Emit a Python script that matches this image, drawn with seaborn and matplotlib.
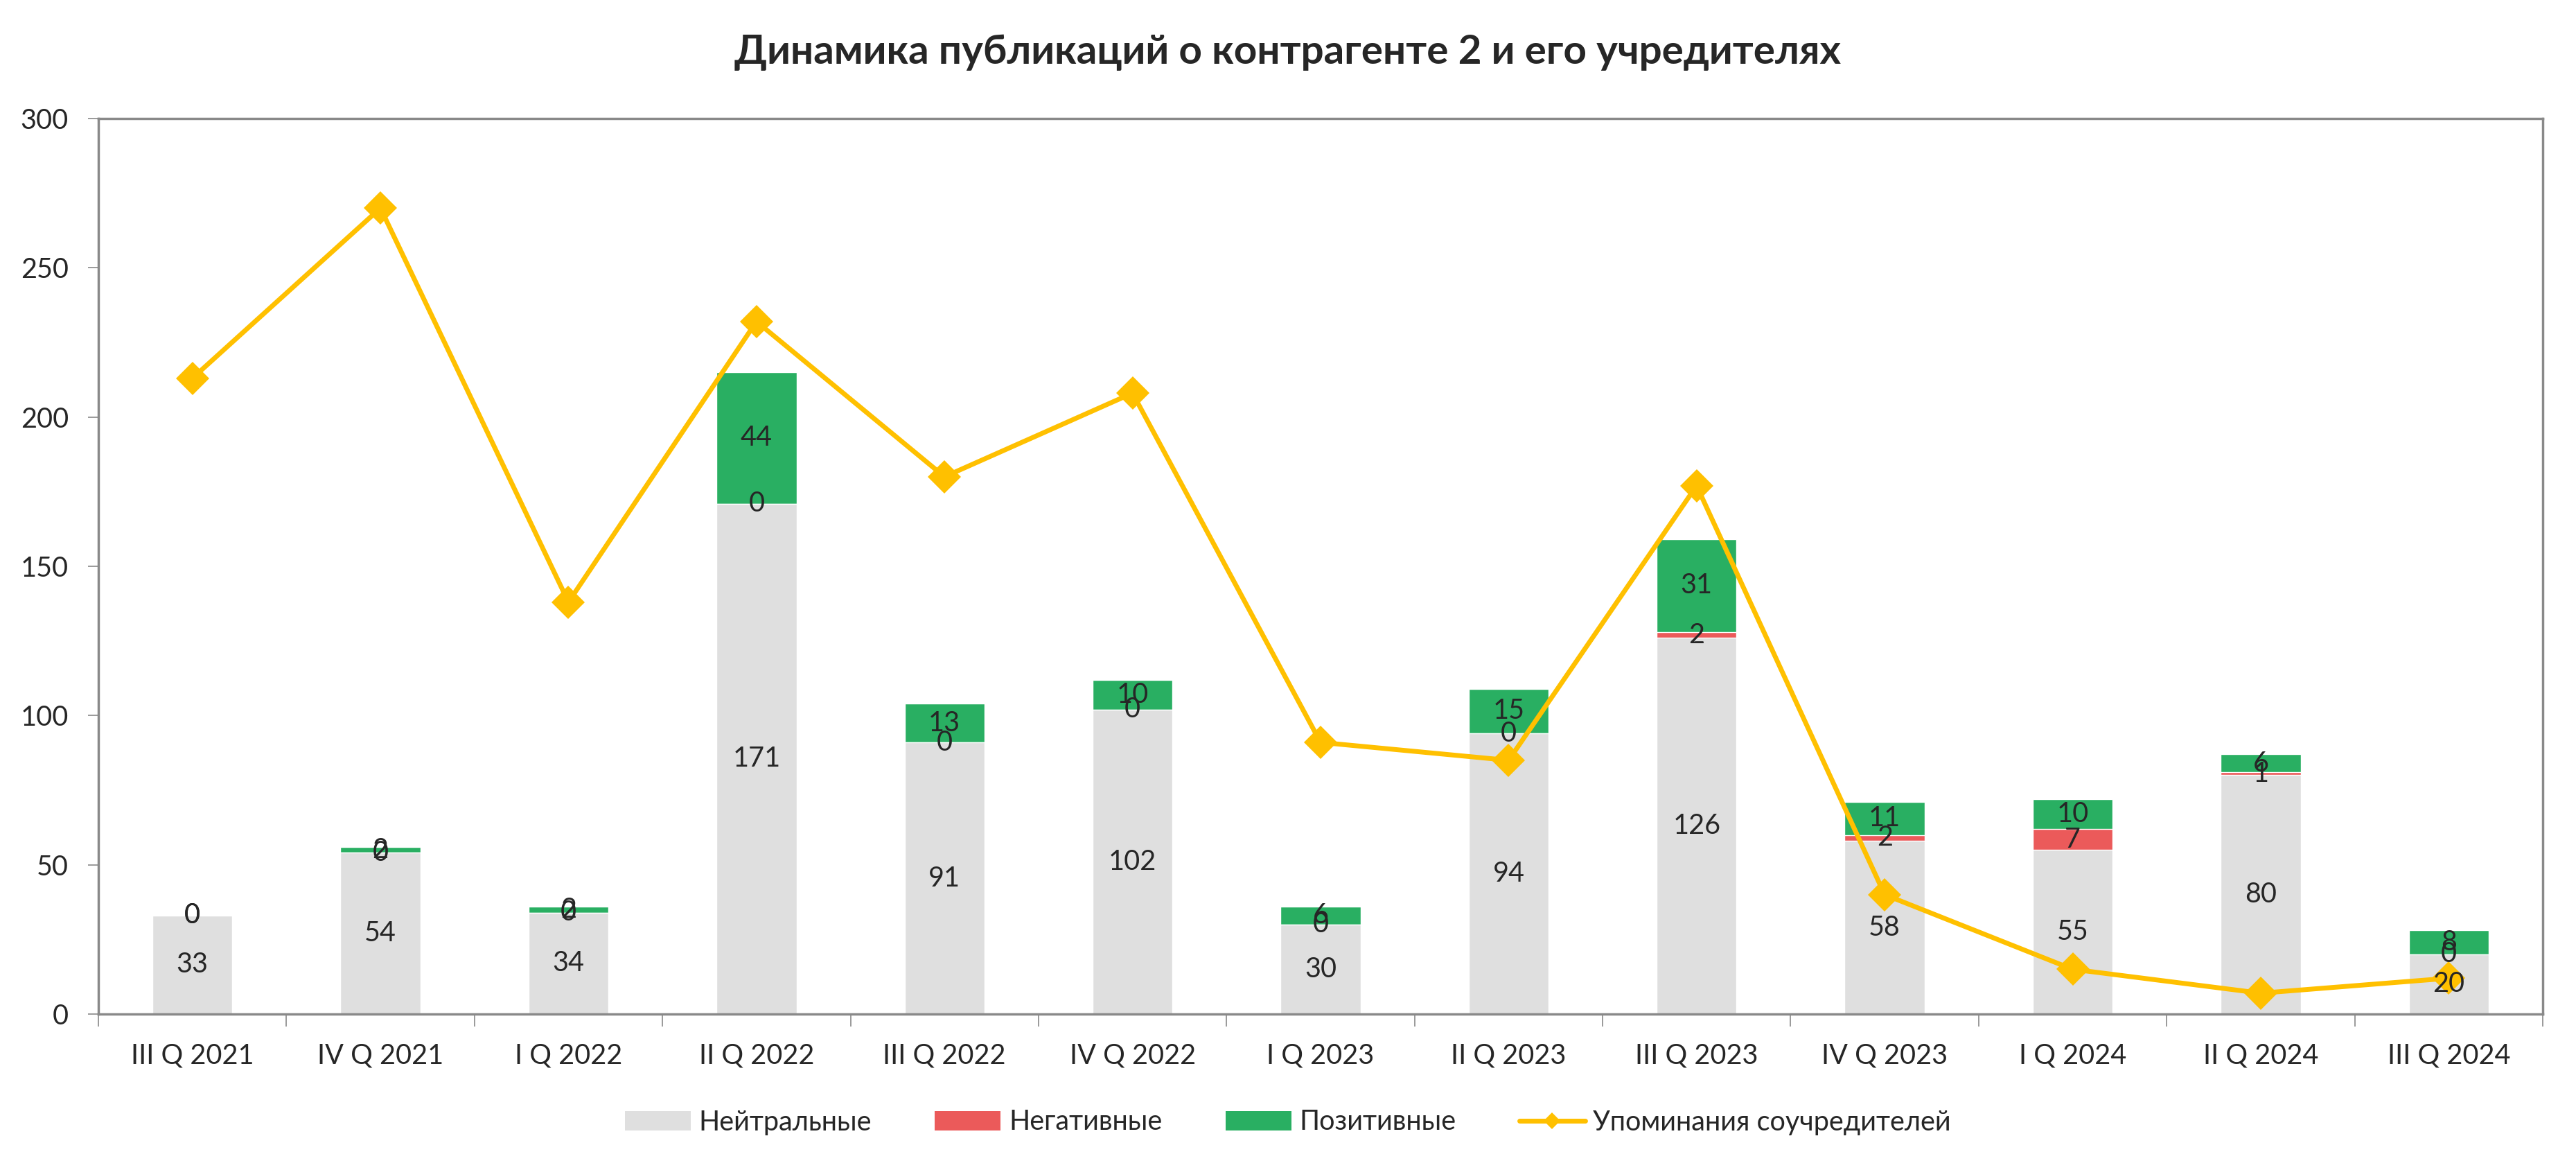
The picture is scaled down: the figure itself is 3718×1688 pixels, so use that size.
import numpy as np
import pandas as pd
import matplotlib
matplotlib.use("Agg")
import matplotlib.pyplot as plt
from matplotlib.patches import Patch
from matplotlib.lines import Line2D
import seaborn as sns

# data
quarters = ['III Q 2021', 'IV Q 2021', 'I Q 2022', 'II Q 2022', 'III Q 2022', 'IV Q 2022',
            'I Q 2023', 'II Q 2023', 'III Q 2023', 'IV Q 2023', 'I Q 2024', 'II Q 2024', 'III Q 2024']
neutral = [33, 54, 34, 171, 91, 102, 30, 94, 126, 58, 55, 80, 20]
negative = [0, 0, 0, 0, 0, 0, 0, 0, 2, 2, 7, 1, 0]
positive = [0, 2, 2, 44, 13, 10, 6, 15, 31, 11, 10, 6, 8]
mentions = [213, 270, 138, 232, 180, 208, 91, 85, 177, 40, 15, 7, 12]

title = 'Динамика публикаций о контрагенте 2 и его учредителях'
series_names = ['Нейтральные', 'Негативные', 'Позитивные', 'Упоминания соучредителей']

c_neu = '#DFDFDF'
c_neg = '#EB5A5A'
c_pos = '#29AF62'
c_line = '#FFC000'
c_frame = '#898989'

sns.set_style('white')
plt.rcParams['font.family'] = ['Lato', 'DejaVu Sans']

df = pd.DataFrame({'quarter': quarters, 'neutral': neutral,
                   'negative': negative, 'positive': positive, 'mentions': mentions})
df['lvl2'] = df['neutral'] + df['negative']
df['lvl3'] = df['lvl2'] + df['positive']

fig = plt.figure(figsize=(37.18, 16.88), dpi=100)
ax = fig.add_axes([142 / 3718, 1 - 1463 / 1688, (3670 - 142) / 3718, (1463 - 171) / 1688])

bw = 0.425
# layered bars give the stacked look: total first, then the lower parts on top
sns.barplot(data=df, x='quarter', y='lvl3', color=c_pos, width=bw, saturation=1,
            errorbar=None, ax=ax, zorder=2)
sns.barplot(data=df, x='quarter', y='lvl2', color=c_neg, width=bw, saturation=1,
            errorbar=None, ax=ax, zorder=2)
sns.barplot(data=df, x='quarter', y='neutral', color=c_neu, width=bw, saturation=1,
            errorbar=None, ax=ax, zorder=2)

xs = np.arange(len(quarters))
sns.lineplot(x=xs, y=df['mentions'], color=c_line, lw=5, marker='D', markersize=24,
             markeredgewidth=0, sort=False, ax=ax, zorder=4)

# segment labels, centred in each segment
fs = 28.5
for i in range(len(quarters)):
    ax.text(i, neutral[i] / 2, str(neutral[i]), ha='center', va='center', fontsize=fs, zorder=6)
    ax.text(i, neutral[i] + negative[i] / 2, str(negative[i]), ha='center', va='center',
            fontsize=fs, zorder=6)
    ax.text(i, neutral[i] + negative[i] + positive[i] / 2, str(positive[i]), ha='center',
            va='center', fontsize=fs, zorder=6)

ax.set_xlim(-0.5, len(quarters) - 0.5)
ax.set_ylim(0, 300)
ax.set_yticks(np.arange(0, 301, 50))
ax.set_xlabel('')
ax.set_ylabel('')
ax.set_xticks(xs)
ax.set_xticklabels(quarters)
ax.set_xticks(np.arange(-0.5, len(quarters), 1), minor=True)
ax.tick_params(axis='x', which='major', length=0, pad=30, labelsize=fs)
ax.tick_params(axis='x', which='minor', length=13, width=1.2, color=c_frame, direction='out')
ax.tick_params(axis='y', length=11, width=1.2, color=c_frame, direction='out', pad=20, labelsize=fs)
ax.tick_params(left=True, bottom=True, which='both')
for s in ax.spines.values():
    s.set_visible(True)
    s.set_color(c_frame)
    s.set_linewidth(2.5)
ax.grid(False)

fig.text(0.5, 1 - 76 / 1688, title, ha='center', va='center', fontsize=42, fontweight='bold')

handles = [Patch(facecolor=c_neu, edgecolor='none'),
           Patch(facecolor=c_neg, edgecolor='none'),
           Patch(facecolor=c_pos, edgecolor='none'),
           Line2D([0], [0], color=c_line, lw=5, marker='D', markersize=12, markeredgewidth=0)]
fig.legend(handles, series_names, loc='center', bbox_to_anchor=(0.5, 1 - 1619 / 1688), ncol=4,
           frameon=False, fontsize=fs, handlelength=2.4, handleheight=0.7,
           handletextpad=0.3, columnspacing=2.3)

fig.savefig('out.png', dpi=100)
